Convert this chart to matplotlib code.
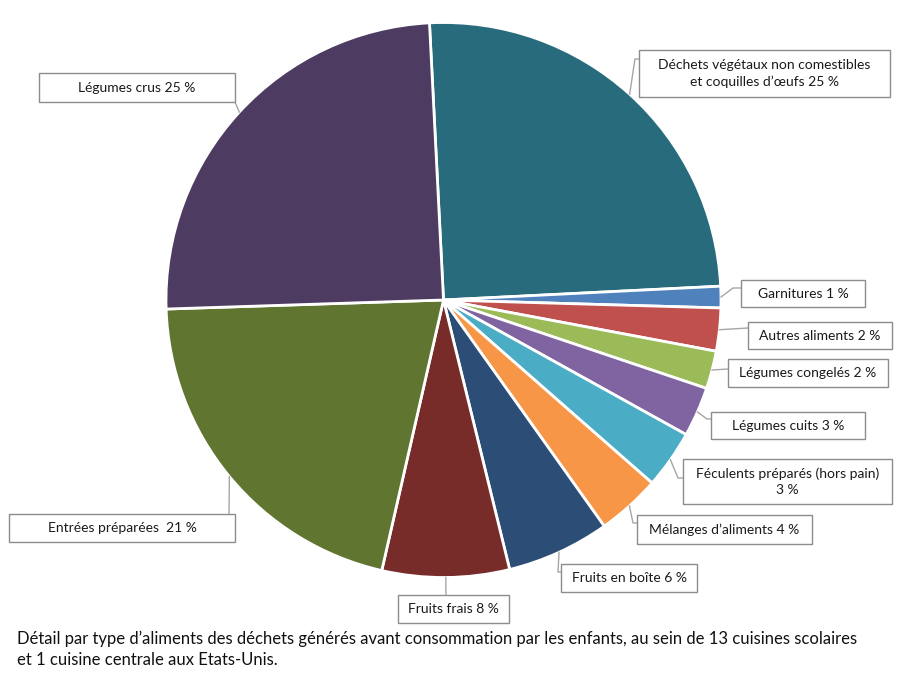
import numpy as np
import matplotlib
matplotlib.use("Agg")
import matplotlib.pyplot as plt
from matplotlib.patches import Rectangle

# ---- data ----
categories = ["Déchets végétaux non comestibles et coquilles d’œufs", "Garnitures",
              "Autres aliments", "Légumes congelés", "Légumes cuits",
              "Féculents préparés (hors pain)", "Mélanges d’aliments",
              "Fruits en boîte", "Fruits frais", "Entrées préparées", "Légumes crus"]
values = [25.0, 1.25, 2.5, 2.2, 2.9, 3.4, 3.7, 6.0, 7.4, 20.9, 24.7]
labels = ["Déchets végétaux non comestibles\net coquilles d’œufs 25 %",
          "Garnitures 1 %", "Autres aliments 2 %", "Légumes congelés 2 %",
          "Légumes cuits 3 %", "Féculents préparés (hors pain)\n3 %",
          "Mélanges d’aliments 4 %", "Fruits en boîte 6 %", "Fruits frais 8 %",
          "Entrées préparées  21 %", "Légumes crus 25 %"]
colors = ["#276B7D", "#4F81BD", "#C0504D", "#9BBB59", "#8064A2", "#4BACC6",
          "#F79646", "#2C4D76", "#772C2A", "#5F7530", "#4E3B62"]
caption = ("Détail par type d’aliments des déchets générés avant consommation par les enfants, au sein de 13 cuisines scolaires\n"
           "et 1 cuisine centrale aux Etats-Unis.")

# ---- layout (pixel coordinates, y from top) ----
W, H = 913, 693
cx, cy, R = 443.5, 300, 277.5
# box (x0, y0, x1, y1), attach point, optional elbow
boxes = [
    ((639, 50, 890, 97), (639, 59), (635, 59)),
    ((741, 280, 865, 307), (741, 288), (733, 288)),
    ((748, 322, 892, 349), (748, 328), None),
    ((728, 359, 888, 387), (728, 369), None),
    ((711, 412, 865, 439), (711, 419), (707, 419)),
    ((683, 459, 892, 504), (683, 478), (678, 478)),
    ((637, 515, 812, 544), (637, 523), (633, 523)),
    ((561, 564, 697, 592), (561, 572), (558, 572)),
    ((398, 595, 509, 623), (446, 595), None),
    ((9, 514, 235, 542), (229, 514), None),
    ((39, 73, 235, 102), (235, 102), None),
]

plt.rcParams['font.family'] = ['Lato', 'DejaVu Sans']

fig = plt.figure(figsize=(W / 100, H / 100), dpi=100)
ax = fig.add_axes([0, 0, 1, 1])

def Y(y):
    return H - y

wedges, _ = ax.pie(values, colors=colors, startangle=92.9, counterclock=False,
                   center=(cx, Y(cy)), radius=R, frame=True,
                   wedgeprops=dict(edgecolor="white", linewidth=2))
ax.set_xlim(0, W)
ax.set_ylim(0, H)
ax.axis('off')

lc = "#A6A6A6"
for w, lab, (box, attach, elbow) in zip(wedges, labels, boxes):
    mid = np.deg2rad((w.theta1 + w.theta2) / 2)
    ax_pt = (cx + R * np.cos(mid), Y(cy) + R * np.sin(mid))
    pts = [ax_pt]
    if elbow is not None:
        pts.append((elbow[0], Y(elbow[1])))
    pts.append((attach[0], Y(attach[1])))
    xs, ys = zip(*pts)
    ax.plot(xs, ys, color=lc, lw=1, zorder=3)
    x0, y0, x1, y1 = box
    ax.add_patch(Rectangle((x0, Y(y1)), x1 - x0, y1 - y0, facecolor="white",
                           edgecolor="#8C8C8C", lw=1, zorder=4))
    ax.text((x0 + x1) / 2, Y((y0 + y1) / 2), lab, ha="center", va="center",
            fontsize=10, color="#1a1a1a", zorder=5, linespacing=1.35)

ax.text(17, Y(649), caption, ha="left", va="center", fontsize=12,
        color="#111111", linespacing=1.4)

fig.savefig("out.png", dpi=100, facecolor="white")
